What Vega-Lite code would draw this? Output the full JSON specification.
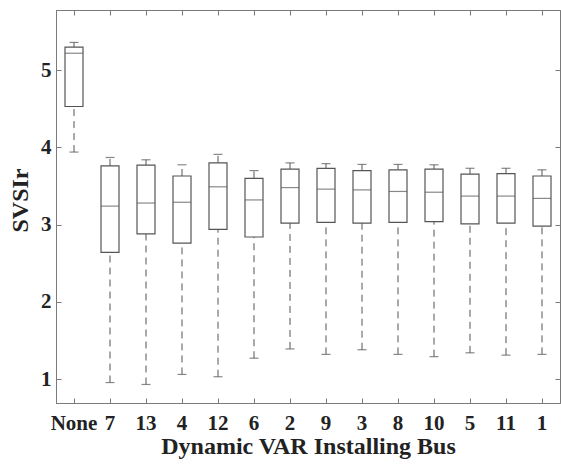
{
  "$schema": "https://vega.github.io/schema/vega-lite/v6.json",
  "width": 504,
  "height": 393,
  "autosize": "none",
  "padding": {"left": 56, "top": 10, "right": 1, "bottom": 61},
  "background": "white",
  "config": {
    "view": {"stroke": "#7a7a7a", "strokeWidth": 1},
    "axis": {
      "labelFont": "Liberation Serif",
      "labelFontWeight": "bold",
      "labelFontSize": 21,
      "labelColor": "#222222",
      "titleFont": "Liberation Serif",
      "titleFontWeight": "bold",
      "titleFontSize": 24,
      "titleColor": "#222222",
      "domainColor": "#7a7a7a",
      "tickColor": "#7a7a7a",
      "grid": false
    }
  },
  "data": {
    "values": [
      {"bus": "None", "lo": 3.94, "q1": 4.53, "med": 5.22, "q3": 5.30, "hi": 5.36},
      {"bus": "7", "lo": 0.955, "q1": 2.64, "med": 3.24, "q3": 3.76, "hi": 3.87},
      {"bus": "13", "lo": 0.93, "q1": 2.88, "med": 3.28, "q3": 3.77, "hi": 3.84},
      {"bus": "4", "lo": 1.06, "q1": 2.76, "med": 3.29, "q3": 3.63, "hi": 3.775},
      {"bus": "12", "lo": 1.03, "q1": 2.94, "med": 3.49, "q3": 3.80, "hi": 3.91},
      {"bus": "6", "lo": 1.27, "q1": 2.84, "med": 3.32, "q3": 3.60, "hi": 3.70},
      {"bus": "2", "lo": 1.39, "q1": 3.02, "med": 3.48, "q3": 3.72, "hi": 3.80},
      {"bus": "9", "lo": 1.32, "q1": 3.03, "med": 3.46, "q3": 3.73, "hi": 3.79},
      {"bus": "3", "lo": 1.38, "q1": 3.02, "med": 3.45, "q3": 3.70, "hi": 3.78},
      {"bus": "8", "lo": 1.32, "q1": 3.03, "med": 3.43, "q3": 3.71, "hi": 3.78},
      {"bus": "10", "lo": 1.29, "q1": 3.04, "med": 3.42, "q3": 3.72, "hi": 3.775},
      {"bus": "5", "lo": 1.34, "q1": 3.01, "med": 3.37, "q3": 3.655, "hi": 3.73},
      {"bus": "11", "lo": 1.31, "q1": 3.02, "med": 3.37, "q3": 3.66, "hi": 3.73},
      {"bus": "1", "lo": 1.32, "q1": 2.98, "med": 3.34, "q3": 3.63, "hi": 3.71}
    ]
  },
  "resolve": {"axis": {"x": "independent", "y": "independent"}},
  "layer": [
    {
      "encoding": {
        "x": {
          "field": "bus",
          "type": "nominal",
          "sort": null,
          "scale": {"paddingInner": 0, "paddingOuter": 0},
          "axis": {
            "title": "Dynamic VAR Installing Bus",
            "labelAngle": 0,
            "tickSize": -5,
            "labelPadding": 14,
            "titlePadding": 1
          }
        }
      },
      "layer": [
        {
          "mark": {"type": "rule", "stroke": "#555555", "strokeDash": [7, 5], "strokeWidth": 1},
          "encoding": {
            "y": {
              "field": "lo",
              "type": "quantitative",
              "scale": {"domain": [0.69, 5.78], "nice": false, "zero": false},
              "axis": {
                "title": "SVSIr",
                "values": [1, 2, 3, 4, 5],
                "format": "d",
                "tickSize": -5,
                "labelPadding": 10,
                "titlePadding": 8,
                "titleY": 190
              }
            },
            "y2": {"field": "q1"}
          }
        },
        {
          "mark": {"type": "rule", "stroke": "#555555", "strokeDash": [7, 5], "strokeWidth": 1},
          "encoding": {
            "y": {"field": "q3", "type": "quantitative"},
            "y2": {"field": "hi"}
          }
        },
        {
          "mark": {"type": "bar", "width": 18, "fill": "white", "stroke": "#555555", "strokeWidth": 1.2},
          "encoding": {
            "y": {"field": "q1", "type": "quantitative"},
            "y2": {"field": "q3"}
          }
        },
        {
          "mark": {"type": "tick", "size": 18, "thickness": 1.2, "color": "#555555", "orient": "horizontal"},
          "encoding": {"y": {"field": "med", "type": "quantitative"}}
        },
        {
          "mark": {"type": "tick", "size": 9, "thickness": 1.2, "color": "#555555", "orient": "horizontal"},
          "encoding": {"y": {"field": "lo", "type": "quantitative"}}
        },
        {
          "mark": {"type": "tick", "size": 9, "thickness": 1.2, "color": "#555555", "orient": "horizontal"},
          "encoding": {"y": {"field": "hi", "type": "quantitative"}}
        }
      ]
    },
    {
      "mark": {"type": "point", "opacity": 0},
      "encoding": {
        "x": {
          "field": "bus",
          "type": "nominal",
          "sort": null,
          "axis": {"orient": "top", "labels": false, "title": null, "tickSize": -5}
        },
        "y": {
          "field": "med",
          "type": "quantitative",
          "axis": {"orient": "right", "labels": false, "title": null, "values": [1, 2, 3, 4, 5], "tickSize": -5}
        }
      }
    }
  ]
}
